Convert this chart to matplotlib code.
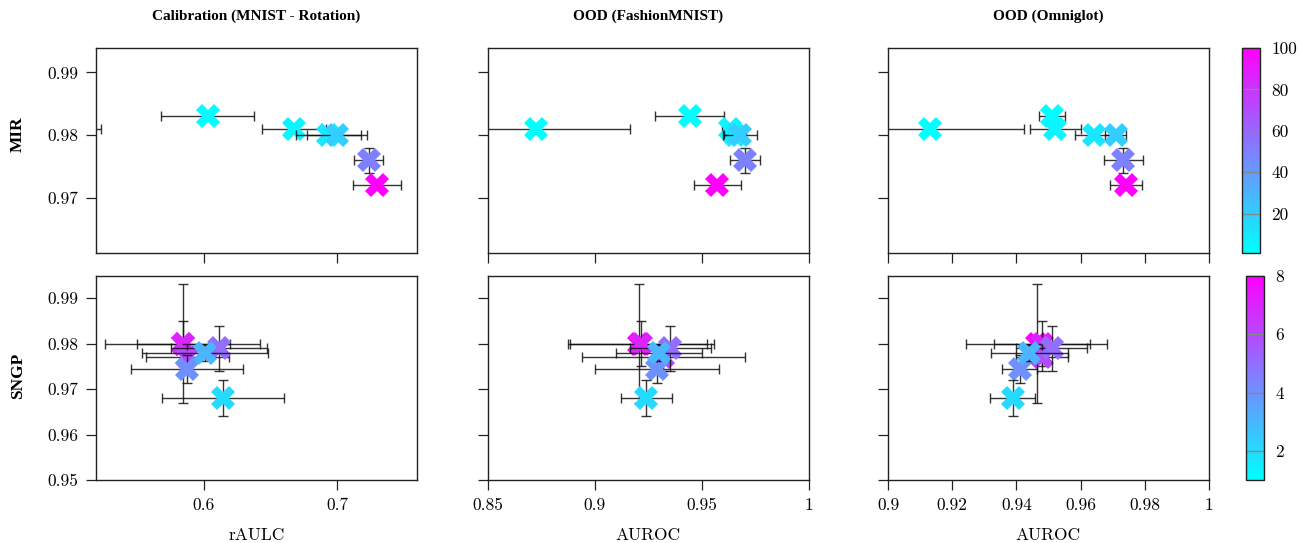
import numpy as np
import matplotlib
matplotlib.use("Agg")
import matplotlib.pyplot as plt
from matplotlib import cm, colors

# ---- data ----
mir_vals = [1, 2, 5, 10, 20, 50, 100]
mir_y = [0.981, 0.983, 0.981, 0.980, 0.980, 0.976, 0.972]
mir_yerr = [0.0004, 0.0004, 0.0004, 0.0004, 0.0004, 0.002, 0.0004]
mir_calib_x = [0.470, 0.6028, 0.6675, 0.6935, 0.6998, 0.7236, 0.7299]
mir_calib_xerr = [0.053, 0.035, 0.024, 0.0244, 0.0223, 0.011, 0.018]
mir_fashion_x = [0.8723, 0.9443, 0.9633, 0.9655, 0.9679, 0.9702, 0.9572]
mir_fashion_xerr = [0.044, 0.0162, 0.004, 0.005, 0.008, 0.007, 0.011]
mir_omni_x = [0.9132, 0.9511, 0.9521, 0.9641, 0.9709, 0.9733, 0.9741]
mir_omni_xerr = [0.0293, 0.004, 0.008, 0.006, 0.0033, 0.006, 0.005]

sngp_vals = [8, 7, 6, 5, 4, 3, 2]
sngp_y = [0.980, 0.980, 0.977, 0.979, 0.9745, 0.978, 0.968]
sngp_yerr = [0.0131, 0.0049, 0.003, 0.005, 0.0031, 0.0017, 0.004]
sngp_calib_x = [0.584, 0.5845, 0.5875, 0.6115, 0.587, 0.6008, 0.6145]
sngp_calib_xerr = [0.058, 0.035, 0.031, 0.036, 0.042, 0.047, 0.046]
sngp_fashion_x = [0.9204, 0.9215, 0.932, 0.9352, 0.929, 0.930, 0.924]
sngp_fashion_xerr = [0.032, 0.034, 0.038, 0.019, 0.029, 0.020, 0.012]
sngp_omni_x = [0.9463, 0.948, 0.948, 0.951, 0.941, 0.944, 0.9388]
sngp_omni_xerr = [0.022, 0.015, 0.008, 0.011, 0.0055, 0.012, 0.007]

col_titles = ["Calibration (MNIST - Rotation)", "OOD (FashionMNIST)", "OOD (Omniglot)"]
row_labels = ["MIR", "SNGP"]
x_labels = ["rAULC", "AUROC", "AUROC"]
x_lims = [(0.519, 0.760), (0.85, 1.0), (0.9, 1.0)]
x_ticks = [[0.6, 0.7], [0.85, 0.9, 0.95, 1.0], [0.9, 0.92, 0.94, 0.96, 0.98, 1.0]]
x_ticklabels = [["0.6", "0.7"], ["0.85", "0.9", "0.95", "1"],
                ["0.9", "0.92", "0.94", "0.96", "0.98", "1"]]
y_lims = [(0.9612, 0.9939), (0.95, 0.9949)]
y_ticks = [[0.97, 0.98, 0.99], [0.95, 0.96, 0.97, 0.98, 0.99]]
y_ticklabels = [["0.97", "0.98", "0.99"], ["0.95", "0.96", "0.97", "0.98", "0.99"]]
cb_ticks = [[20, 40, 60, 80, 100], [2, 4, 6, 8]]
cb_ranges = [(1, 100), (1, 8)]

W, H = 1301, 543
TICKFONT = "cmr10"
BOLDFONT = "Liberation Serif"
TS = 12.5


def box(x0, y0, x1, y1):
    return [x0 / W, 1 - y1 / H, (x1 - x0) / W, (y1 - y0) / H]


fig = plt.figure(figsize=(W / 100, H / 100), dpi=100)
cols_px = [(96, 417), (488, 809), (888, 1209)]
rows_px = [(48, 253), (276, 480)]

rows = [
    (mir_vals, mir_y, mir_yerr,
     [(mir_calib_x, mir_calib_xerr), (mir_fashion_x, mir_fashion_xerr), (mir_omni_x, mir_omni_xerr)]),
    (sngp_vals, sngp_y, sngp_yerr,
     [(sngp_calib_x, sngp_calib_xerr), (sngp_fashion_x, sngp_fashion_xerr), (sngp_omni_x, sngp_omni_xerr)]),
]

cmap = plt.get_cmap("cool")

for r, (vals, ys, yerrs, cols) in enumerate(rows):
    norm = colors.Normalize(*cb_ranges[r])
    for c, (xs, xerrs) in enumerate(cols):
        ax = fig.add_axes(box(cols_px[c][0], rows_px[r][0], cols_px[c][1], rows_px[r][1]))
        for v, x, xe, y, ye in zip(vals, xs, xerrs, ys, yerrs):
            ax.errorbar(x, y, xerr=xe, yerr=ye, fmt="none", ecolor="#111111",
                        elinewidth=1.0, capsize=3.8, capthick=1.0, alpha=0.85)
            ax.plot(x, y, marker="X", ms=17, mew=0, color=cmap(norm(v)), ls="none")
        ax.set_xlim(*x_lims[c])
        ax.set_ylim(*y_lims[r])
        ax.set_xticks(x_ticks[c])
        ax.set_yticks(y_ticks[r])
        if r == 1:
            ax.set_xticklabels(x_ticklabels[c], fontfamily=TICKFONT, fontsize=TS)
            ax.set_xlabel(x_labels[c], fontfamily=TICKFONT, fontsize=TS, labelpad=11)
        else:
            ax.set_xticklabels([])
            ax.set_title(col_titles[c], fontfamily=BOLDFONT, fontweight="bold",
                         fontsize=11, pad=20)
        if c == 0:
            ax.set_yticklabels(y_ticklabels[r], fontfamily=TICKFONT, fontsize=TS)
        else:
            ax.set_yticklabels([])
        ax.tick_params(direction="out", length=7.5, width=0.9, color="#222222", pad=5)
        for s in ax.spines.values():
            s.set_linewidth(1.0)
            s.set_color("#222222")

    # colorbar
    cb_px = [(1242, 48, 1260, 253), (1246, 276, 1264, 480)][r]
    cax = fig.add_axes(box(*cb_px))
    sm = cm.ScalarMappable(norm=norm, cmap=cmap)
    cb = fig.colorbar(sm, cax=cax, ticks=cb_ticks[r])
    cb.outline.set_linewidth(1.0)
    cb.outline.set_edgecolor("#222222")
    cax.tick_params(direction="in", length=13, width=1.0, color="#888888", pad=8)
    for lab in cax.get_yticklabels():
        lab.set_fontfamily(TICKFONT)
        lab.set_fontsize(TS)

fig.text(18 / W, 1 - 134 / H, row_labels[0], rotation=90, ha="center", va="center",
         fontfamily=BOLDFONT, fontweight="bold", fontsize=12.5)
fig.text(18 / W, 1 - 376 / H, row_labels[1], rotation=90, ha="center", va="center",
         fontfamily=BOLDFONT, fontweight="bold", fontsize=12.5)

fig.savefig("out.png", dpi=100)
